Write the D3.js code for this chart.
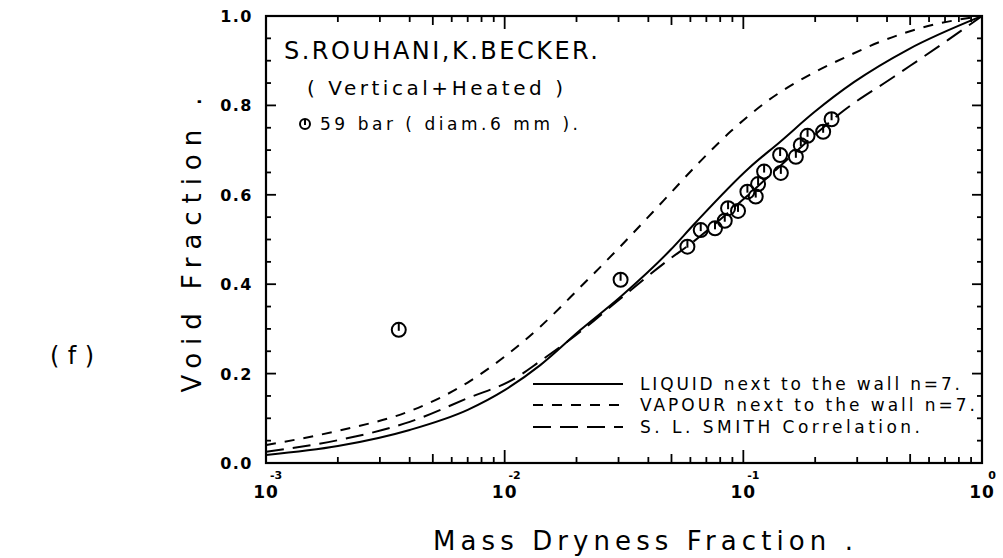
<!DOCTYPE html>
<html><head><meta charset="utf-8">
<script src="https://cdn.jsdelivr.net/npm/d3@7"></script>
<style>body{margin:0;background:#fff}svg{display:block}text{font-family:"DejaVu Sans",sans-serif;fill:#000}</style>
</head><body>
<svg id="c" width="1003" height="558"></svg>
<script>
// ---- data ----
const dataX = [0.0036, 0.0306, 0.0583, 0.0663, 0.0761, 0.0836, 0.0863, 0.0950, 0.104, 0.1127, 0.1153, 0.1222, 0.1426, 0.1436, 0.166, 0.1741, 0.1858, 0.216, 0.2343];
const dataY = [0.298, 0.41, 0.484, 0.521, 0.525, 0.542, 0.570, 0.564, 0.607, 0.596, 0.624, 0.652, 0.689, 0.649, 0.685, 0.711, 0.732, 0.741, 0.769];

const liquidX = [0.001, 0.002, 0.004, 0.007, 0.01, 0.0141, 0.0208, 0.0306, 0.0496, 0.0619, 0.1057, 0.1436, 0.1973, 0.2906, 0.4896, 1.0];
const liquidY = [0.018, 0.038, 0.074, 0.119, 0.163, 0.219, 0.298, 0.372, 0.477, 0.533, 0.660, 0.720, 0.784, 0.852, 0.925, 1.0];

const vapourX = [0.001, 0.002, 0.004, 0.007, 0.01, 0.0141, 0.0208, 0.0306, 0.0465, 0.0663, 0.0886, 0.1263, 0.2, 0.2734, 0.3772, 0.6, 1.0];
const vapourY = [0.040, 0.072, 0.116, 0.180, 0.238, 0.305, 0.394, 0.485, 0.588, 0.676, 0.742, 0.810, 0.875, 0.910, 0.943, 0.978, 1.0];

const smithX = [0.001, 0.002, 0.004, 0.007, 0.0111, 0.0141, 0.0201, 0.0306, 0.0496, 0.06, 0.1, 0.15, 0.2, 0.254, 0.4276, 0.7185, 1.0];
const smithY = [0.025, 0.051, 0.092, 0.145, 0.190, 0.228, 0.288, 0.368, 0.458, 0.490, 0.590, 0.675, 0.735, 0.782, 0.864, 0.946, 1.0];

const yTicks = [0.0, 0.2, 0.4, 0.6, 0.8, 1.0];
const yTickLabels = ["0.0", "0.2", "0.4", "0.6", "0.8", "1.0"];
const xDecades = [-3, -2, -1, 0];
const xTickExp = ["-3", "-2", "-1", "0"];

const titleLines = ["S.ROUHANI,K.BECKER.", "( Vertical+Heated )", "59 bar ( diam.6 mm )."];
const legendLabels = ["LIQUID next to the wall n=7.", "VAPOUR next to the wall n=7.", "S. L. SMITH Correlation."];
const xTitle = "Mass Dryness Fraction .";
const yTitle = "Void Fraction .";
const panelLabel = "(f)";

// ---- layout ----
const L = 266, R = 982, T = 16, B = 463;
const svg = d3.select("#c");
const x = d3.scaleLog().domain([1e-3, 1]).range([L, R]);
const y = d3.scaleLinear().domain([0, 1]).range([B, T]);

svg.append("rect").attr("x", L).attr("y", T).attr("width", R - L).attr("height", B - T)
  .attr("fill", "none").attr("stroke", "#000").attr("stroke-width", 2.2);

const xt = [];
xDecades.forEach(d => { for (let k = 1; k <= 9; k++) { if (d === 0 && k > 1) break; xt.push({v: k * Math.pow(10, d), k}); } });
const tlen = t => t.k === 1 ? 13 : (t.k === 5 ? 9 : 6);
svg.append("g").selectAll("line").data(xt).join("line")
  .attr("x1", d => x(d.v)).attr("x2", d => x(d.v)).attr("y1", B).attr("y2", d => B - tlen(d))
  .attr("stroke", "#000").attr("stroke-width", 1.8);
svg.append("g").selectAll("line").data(xt).join("line")
  .attr("x1", d => x(d.v)).attr("x2", d => x(d.v)).attr("y1", T).attr("y2", d => T + tlen(d))
  .attr("stroke", "#000").attr("stroke-width", 1.8);

const yt = d3.range(0, 21).map(i => i / 20);
const ylen = v => (Math.round(v * 20) % 4 === 0) ? 10 : 5;
svg.append("g").selectAll("line").data(yt).join("line")
  .attr("x1", L).attr("x2", d => L + ylen(d)).attr("y1", d => y(d)).attr("y2", d => y(d))
  .attr("stroke", "#000").attr("stroke-width", 1.8);
svg.append("g").selectAll("line").data(yt).join("line")
  .attr("x1", R).attr("x2", d => R - ylen(d)).attr("y1", d => y(d)).attr("y2", d => y(d))
  .attr("stroke", "#000").attr("stroke-width", 1.8);

svg.append("g").selectAll("text").data(yTicks).join("text")
  .attr("x", 253).attr("y", d => y(d) + 6).attr("text-anchor", "end")
  .attr("font-size", 16).attr("font-weight", "bold").attr("letter-spacing", 1.5)
  .text((d, i) => yTickLabels[i]);

const xl = svg.append("g").selectAll("g").data(xDecades).join("g")
  .attr("transform", d => `translate(${x(Math.pow(10, d))},0)`);
xl.append("text").attr("x", 0).attr("y", 498).attr("text-anchor", "middle")
  .attr("font-size", 17).attr("font-weight", "bold").attr("letter-spacing", 1).text("10");
xl.append("text").attr("x", 10).attr("y", 479).attr("text-anchor", "middle")
  .attr("font-size", 11).attr("font-weight", "bold").text((d, i) => xTickExp[i]);

svg.append("text").attr("x", 643).attr("y", 550).attr("text-anchor", "middle")
  .attr("font-size", 26).attr("textLength", 420).attr("lengthAdjust", "spacing").text(xTitle);
svg.append("text").attr("transform", "translate(201,245) rotate(-90)").attr("text-anchor", "middle")
  .attr("font-size", 26).attr("textLength", 295).attr("lengthAdjust", "spacing").text(yTitle);
svg.append("text").attr("x", 50).attr("y", 364).attr("font-family", "Liberation Mono, monospace")
  .attr("font-size", 24).attr("textLength", 44).attr("lengthAdjust", "spacing").text(panelLabel);

const line = (xs, ys) => d3.line().x((d, i) => x(xs[i])).y((d, i) => y(ys[i])).curve(d3.curveMonotoneX)(xs);
const curves = [
  {xs: liquidX, ys: liquidY, dash: null},
  {xs: vapourX, ys: vapourY, dash: "10,9"},
  {xs: smithX, ys: smithY, dash: "18,9"}
];
svg.append("defs").append("clipPath").attr("id", "clp").append("rect")
  .attr("x", L).attr("y", T).attr("width", R - L).attr("height", B - T);
svg.append("g").attr("clip-path", "url(#clp)").selectAll("path").data(curves).join("path")
  .attr("d", d => line(d.xs, d.ys)).attr("fill", "none").attr("stroke", "#000")
  .attr("stroke-width", 2).attr("stroke-dasharray", d => d.dash);

function marker(g, cx, cy, r) {
  g.append("circle").attr("cx", cx).attr("cy", cy).attr("r", r).attr("fill", "none")
    .attr("stroke", "#000").attr("stroke-width", 2);
  g.append("line").attr("x1", cx).attr("x2", cx).attr("y1", cy - r).attr("y2", cy + 1)
    .attr("stroke", "#000").attr("stroke-width", 2);
}
const mg = svg.append("g");
dataX.forEach((v, i) => marker(mg, x(v), y(dataY[i]), 7));

svg.append("text").attr("x", 284).attr("y", 59).attr("font-size", 24)
  .attr("textLength", 314).attr("lengthAdjust", "spacing").text(titleLines[0]);
svg.append("text").attr("x", 307).attr("y", 95).attr("font-size", 20)
  .attr("textLength", 256).attr("lengthAdjust", "spacing").text(titleLines[1]);
marker(svg, 305, 124, 5);
svg.append("text").attr("x", 320).attr("y", 130).attr("font-size", 17)
  .attr("textLength", 258).attr("lengthAdjust", "spacing").text(titleLines[2]);

const lg = svg.append("g");
const legY = [384, 405, 427];
const legDash = [null, "10,9", "18,9"];
const legW = [320, 335, 280];
legendLabels.forEach((t, i) => {
  lg.append("line").attr("x1", 533).attr("x2", 623).attr("y1", legY[i]).attr("y2", legY[i])
    .attr("stroke", "#000").attr("stroke-width", 2).attr("stroke-dasharray", legDash[i]);
  lg.append("text").attr("x", 640).attr("y", legY[i] + 6).attr("font-size", 17)
    .attr("textLength", legW[i]).attr("lengthAdjust", "spacing").text(t);
});
</script>
</body></html>
